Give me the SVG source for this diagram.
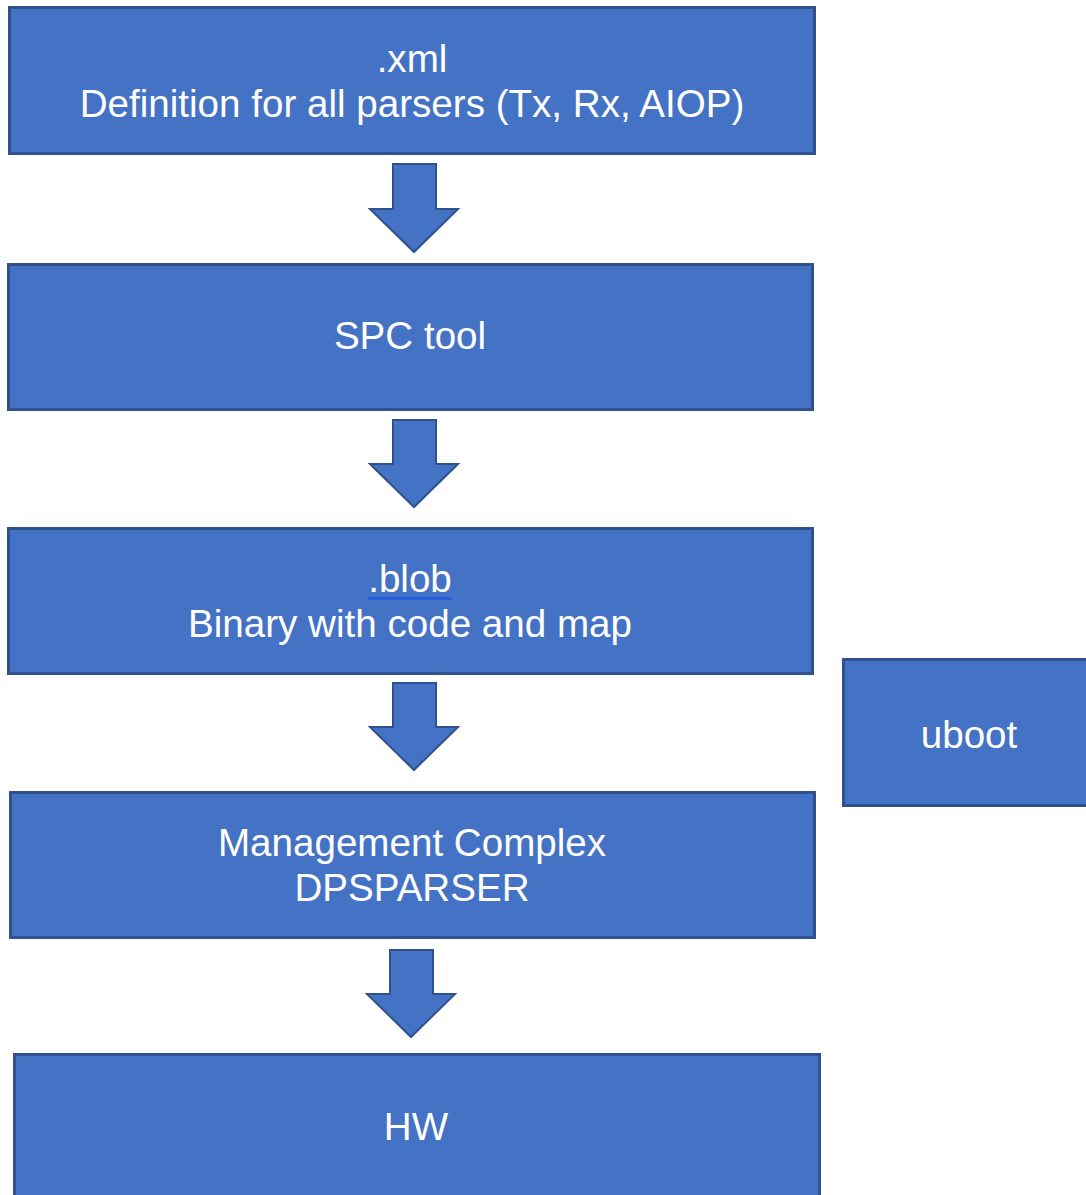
<svg xmlns="http://www.w3.org/2000/svg" width="1086" height="1195" viewBox="0 0 1086 1195">
<style>
.box{fill:#4472C4;stroke:#2F528F;stroke-width:3}
.arrow{fill:#4472C4;stroke:#2F528F;stroke-width:2;stroke-linejoin:miter}
.t{fill:#FFFFFF;font-family:"Liberation Sans",Arial,sans-serif;font-size:38.6px;text-anchor:middle}
</style>
<rect width="1086" height="1195" fill="#FFFFFF"/>
<g id="connectors">
<polygon class="arrow" points="393,164 436,164 436,209 458,209 414,252 370,209 393,209"/>
<polygon class="arrow" points="393,420 436,420 436,464 458,464 414,507 370,464 393,464"/>
<polygon class="arrow" points="393,683 436,683 436,727 458,727 414,770 370,727 393,727"/>
<polygon class="arrow" points="390,950 433,950 433,994 455,994 411,1037 367,994 390,994"/>
</g>
<g id="node-xml">
<rect class="box" x="9.5" y="7.5" width="805" height="146"/>
<text class="t" x="412" y="72">.xml</text>
<text class="t" x="412" y="117">Definition for all parsers (Tx, Rx, AIOP)</text>
</g>
<g id="node-spc">
<rect class="box" x="8.5" y="264.5" width="804" height="145"/>
<text class="t" x="410" y="349">SPC tool</text>
</g>
<g id="node-blob">
<rect class="box" x="8.5" y="528.5" width="804" height="145"/>
<text class="t" x="410" y="592">.blob</text>
<line x1="368" y1="598.5" x2="452" y2="598.5" stroke="#1F5FE6" stroke-width="2.5"/>
<text class="t" x="410" y="637">Binary with code and map</text>
</g>
<g id="node-mc">
<rect class="box" x="10.5" y="792.5" width="804" height="145"/>
<text class="t" x="412" y="856">Management Complex</text>
<text class="t" x="412" y="901">DPSPARSER</text>
</g>
<g id="node-hw">
<rect class="box" x="14.5" y="1054.5" width="805" height="160"/>
<text class="t" x="416" y="1140">HW</text>
</g>
<g id="node-uboot">
<rect class="box" x="843.5" y="659.5" width="260" height="146"/>
<text class="t" x="969" y="748">uboot</text>
</g>
</svg>
